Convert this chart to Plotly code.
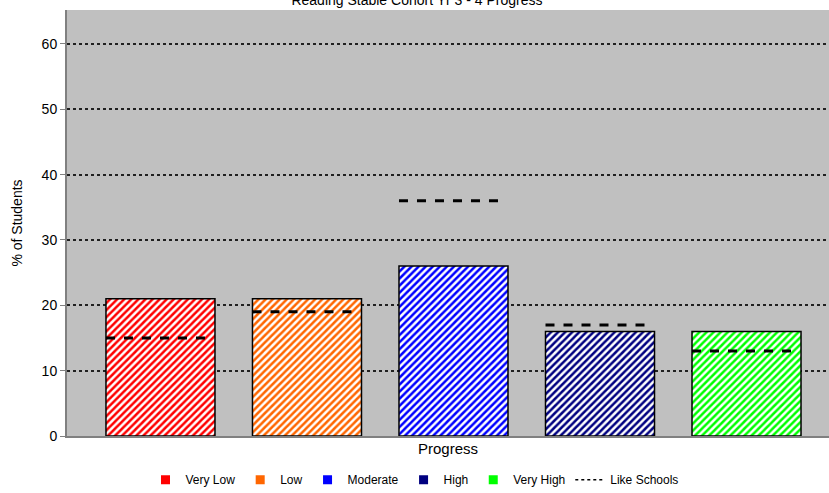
import plotly.graph_objects as go

# Progress categories and results
categories = ["Very Low", "Low", "Moderate", "High", "Very High"]
school_pct = [21, 21, 26, 16, 16]
like_schools_pct = [15, 19, 36, 17, 13]
bar_colors = ["#FF0000", "#FF6600", "#0000FF", "#000080", "#00FF00"]
y_ticks = [0, 10, 20, 30, 40, 50, 60]

BAR_W = 0.744
FONT = "Liberation Sans, Arial, sans-serif"

fig = go.Figure()

# Hatched bars, one per progress band
for i, (name, val, col) in enumerate(zip(categories, school_pct, bar_colors)):
    fig.add_trace(go.Bar(
        x=[i], y=[val], width=BAR_W, name=name, showlegend=False,
        marker=dict(
            color="white",
            line=dict(color="black", width=1.5),
            pattern=dict(shape="/", fgcolor=col, bgcolor="white",
                         size=5, solidity=0.5, fillmode="replace"),
        ),
    ))

# Like-schools comparison markers: dashed segments across each bar
for i, val in enumerate(like_schools_pct):
    fig.add_trace(go.Scatter(
        x=[i - BAR_W / 2, i + BAR_W / 2 - 0.03], y=[val, val],
        mode="lines", showlegend=False, hoverinfo="skip",
        line=dict(color="black", width=3, dash="9px,9px"),
    ))

# Legend entries (solid swatches)
for name, col in zip(categories, bar_colors):
    fig.add_trace(go.Scatter(
        x=[None], y=[None], mode="markers", name=name,
        marker=dict(symbol="square", size=9, color=col),
    ))
fig.add_trace(go.Scatter(
    x=[None], y=[None], mode="lines", name="Like Schools",
    line=dict(color="black", width=1.5, dash="3px,3px"),
))

fig.update_layout(
    width=829, height=493,
    margin=dict(l=67, r=0, t=10, b=57, autoexpand=False),
    paper_bgcolor="white",
    plot_bgcolor="#C0C0C0",
    barmode="overlay",
    font=dict(family=FONT, size=13, color="black"),
    title=dict(text="Reading Stable Cohort Yr 3 - 4 Progress",
               x=0.503, xref="container", xanchor="center",
               y=0.999, yref="container", yanchor="middle",
               font=dict(size=14, family=FONT)),
    xaxis=dict(
        range=[-0.638, 4.563], showticklabels=False, showgrid=False,
        zeroline=False, showline=True, linecolor="#808080", linewidth=2,
        title=dict(text="Progress", standoff=6, font=dict(size=15)),
        fixedrange=True,
    ),
    yaxis=dict(
        range=[0, 65.2], tickvals=y_ticks, ticks="outside", ticklen=5,
        tickcolor="#808080", showline=True, linecolor="#808080", linewidth=2,
        showgrid=True, gridcolor="#202020", gridwidth=1.5, griddash="3px,3px",
        zeroline=False, tickfont=dict(size=14),
        title=dict(text="% of Students", standoff=16, font=dict(size=14)),
    ),
    legend=dict(
        orientation="h", x=0.5, xref="container", xanchor="center",
        y=0.027, yref="container", yanchor="middle",
        font=dict(size=12), itemwidth=30, tracegroupgap=0,
        bgcolor="rgba(0,0,0,0)",
    ),
)

fig.write_html("out.html")
